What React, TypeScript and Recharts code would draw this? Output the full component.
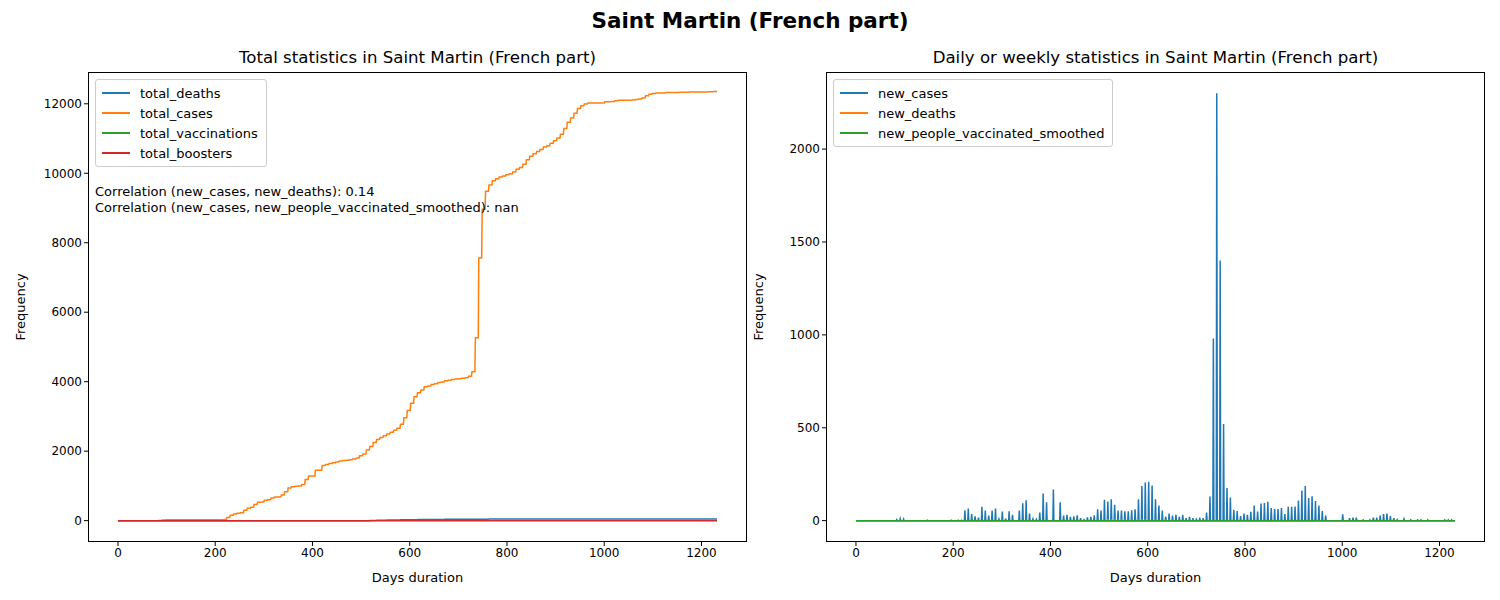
import { LineChart, Line, XAxis, YAxis, Label } from "recharts";

// weekly reported new cases, week 0 = day 0
const weeklyCases = [
  0, 0, 0, 0, 0, 0, 0, 0, 0, 0, 0, 0, 5, 10, 8, 0, 0, 0, 0, 0, 0, 2, 0, 0, 0, 0, 0, 0, 2, 0, 2, 2,
  56, 65, 36, 23, 16, 74, 54, 27, 54, 65, 9, 49, 11, 50, 32, 0, 54, 94, 110, 38, 9, 7, 43, 146, 99, 0, 167, 0,
  99, 27, 31, 20, 23, 29, 14, 5, 18, 20, 29, 61, 54, 113, 103, 115, 86, 54, 54, 50, 50, 56, 61, 115, 187, 205,
  209, 189, 115, 81, 54, 22, 38, 27, 31, 20, 32, 14, 20, 14, 7, 16, 14, 43, 130, 980, 2300, 1400, 520, 176,
  124, 58, 52, 25, 38, 31, 47, 81, 49, 92, 95, 101, 68, 63, 63, 68, 36, 74, 74, 76, 108, 162, 187, 122, 131,
  106, 81, 52, 27, 0, 0, 0, 0, 34, 0, 13, 16, 16, 0, 4, 0, 4, 16, 16, 27, 36, 38, 25, 13, 5, 0, 9, 0, 4, 0,
  4, 4, 0, 4, 0, 0, 0, 0, 4, 4, 4, 0, 0,
];
// weekly reported new deaths
const weeklyDeaths = [
  ...Array(74).fill(0), 4, 3, 2, 2, 3, 2, 1, 2, 1, 2, 3, 2, 1, 0, 2, 1, 0, 1, 2, 1, 0, 1, 1, 0, 1, 2, 0, 1,
  0, 1, 0, 0, 1, 0, 0, 1, 0, 0, 0, 0, 1,
];
// cases counted in totals but not shown as weekly spikes (revisions), by week
const revisionWeeks = [40, 60, 90, 120, 135, 155];
const revisionCases = [30, 40, 40, 40, 30, 30];
const lastDay = 1232;
const xTicks = [0, 200, 400, 600, 800, 1000, 1200];
const leftTicks = [0, 2000, 4000, 6000, 8000, 10000, 12000];
const rightTicks = [0, 500, 1000, 1500, 2000];

const C = { blue: "#1f77b4", orange: "#ff7f0e", green: "#2ca02c", red: "#d62728" };

const rows: any[] = [];
let tc = 0;
let td = 0;
for (let d = 0; d <= lastDay; d++) {
  const w = d / 7;
  const nc = d % 7 === 0 ? weeklyCases[w] ?? 0 : 0;
  const nd = d % 7 === 0 ? weeklyDeaths[w] ?? 0 : 0;
  const ri = d % 7 === 0 ? revisionWeeks.indexOf(w) : -1;
  tc += nc + (ri >= 0 ? revisionCases[ri] : 0);
  td += nd;
  rows.push({ day: d, new_cases: nc, new_deaths: nd, total_cases: tc, total_deaths: td, total_boosters: 0, vacc: 0 });
}

const font = "DejaVu Sans, sans-serif";
const tick = { fill: "#000", fontSize: 12, fontFamily: font };

function Legend({ left, top, items }: { left: number; top: number; items: [string, string][] }) {
  return (
    <div
      style={{
        position: "absolute", left, top, border: "1px solid #ccc", borderRadius: 3, background: "rgba(255,255,255,0.8)",
        padding: "3px 8px 3px 6px", fontFamily: font, fontSize: 13,
      }}
    >
      {items.map(([n, c]) => (
        <div key={n} style={{ display: "flex", alignItems: "center", height: 20 }}>
          <span style={{ width: 28, height: 2, background: c, marginRight: 10, display: "inline-block" }} />
          {n}
        </div>
      ))}
    </div>
  );
}

function Panel({ left, title, yDomain, yTicks, series }: any) {
  return (
    <div style={{ position: "absolute", left, top: 0, width: 747, height: 600 }}>
      <LineChart width={747} height={600} data={rows} margin={{ top: 72, right: 0, bottom: 0, left: 0 }}>
        <XAxis
          dataKey="day" type="number" domain={[-61.6, 1293.6]} ticks={xTicks} allowDataOverflow
          height={58} tick={tick} axisLine={false} tickLine={{ stroke: "#000" }} tickSize={4}
        >
          <Label value="Days duration" position="insideBottom" offset={18} style={{ fontSize: 13, fontFamily: font, fill: "#000" }} />
        </XAxis>
        <YAxis
          type="number" domain={yDomain} ticks={yTicks} allowDataOverflow width={88}
          tick={tick} axisLine={false} tickLine={{ stroke: "#000" }} tickSize={4}
        >
          <Label value="Frequency" angle={-90} position="insideLeft" offset={20} style={{ fontSize: 13, fontFamily: font, fill: "#000", textAnchor: "middle" }} />
        </YAxis>
        {series.map(([k, c]: [string, string]) => (
          <Line key={k} dataKey={k} stroke={c} strokeWidth={1.5} dot={false} isAnimationActive={false} />
        ))}
      </LineChart>
      <div style={{ position: "absolute", left: 88, top: 72, width: 659, height: 470, border: "1px solid #000", boxSizing: "border-box", pointerEvents: "none" }} />
      <div style={{ position: "absolute", left: 88, width: 659, top: 48, textAlign: "center", fontFamily: font, fontSize: 16.6 }}>{title}</div>
    </div>
  );
}

export default function App() {
  return (
    <div style={{ position: "absolute", left: 0, top: 0, width: 1500, height: 600, background: "#fff", overflow: "hidden" }}>
      <div style={{ position: "absolute", left: 0, width: 1500, top: 8, textAlign: "center", fontFamily: font, fontSize: 21.5, fontWeight: "bold" }}>
        Saint Martin (French part)
      </div>
      <Panel
        left={0} title="Total statistics in Saint Martin (French part)" yDomain={[-615, 12915]} yTicks={leftTicks}
        series={[["total_deaths", C.blue], ["total_cases", C.orange], ["total_boosters", C.red]]}
      />
      <Panel
        left={738} title="Daily or weekly statistics in Saint Martin (French part)" yDomain={[-115, 2415]} yTicks={rightTicks}
        series={[["new_cases", C.blue], ["new_deaths", C.orange], ["vacc", C.green]]}
      />
      <Legend left={95} top={79} items={[["total_deaths", C.blue], ["total_cases", C.orange], ["total_vaccinations", C.green], ["total_boosters", C.red]]} />
      <Legend left={833} top={79} items={[["new_cases", C.blue], ["new_deaths", C.orange], ["new_people_vaccinated_smoothed", C.green]]} />
      <div style={{ position: "absolute", left: 95, top: 184, fontFamily: font, fontSize: 13, lineHeight: "16px" }}>
        Correlation (new_cases, new_deaths): 0.14<br />
        Correlation (new_cases, new_people_vaccinated_smoothed): nan
      </div>
    </div>
  );
}
